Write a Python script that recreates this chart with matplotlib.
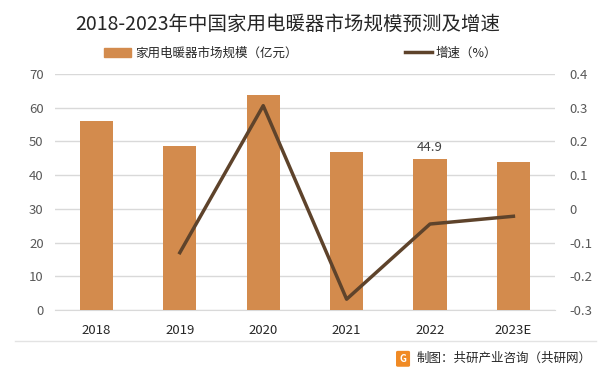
import matplotlib.pyplot as plt
from matplotlib.patches import FancyBboxPatch
from matplotlib.lines import Line2D

plt.rcParams['font.family'] = ['Noto Sans CJK SC', 'DejaVu Sans']

# data
years = ['2018', '2019', '2020', '2021', '2022', '2023E']
market_size = [56.1, 48.7, 63.9, 46.9, 44.9, 44.0]  # 亿元
growth_years = ['2019', '2020', '2021', '2022', '2023E']
growth = [-0.13, 0.306, -0.268, -0.045, -0.022]  # %

bar_color = '#D38B4D'
line_color = '#5E432B'
tick_color = '#595959'

fig = plt.figure(figsize=(6.02, 3.72), dpi=100)
ax = fig.add_axes([0.0909, 0.1667, 0.8312, 0.6344])
ax2 = ax.twinx()

x = list(range(len(years)))
ax.bar(x, market_size, width=0.4, color=bar_color, zorder=3)
ax.set_xlim(-0.5, len(years) - 0.5)
ax.set_ylim(0, 70)
ax.set_yticks(range(0, 71, 10))
ax.set_xticks(x)
ax.set_xticklabels(years)
ax.grid(axis='y', color='#d9d9d9', linewidth=1, zorder=0)
ax.set_axisbelow(True)

# label for 2022
i22 = years.index('2022')
ax.text(i22, market_size[i22] + 1.5, f'{market_size[i22]}', ha='center',
        va='bottom', fontsize=9.5, color='#404040')

gx = [years.index(y) for y in growth_years]
ax2.plot(gx, growth, color=line_color, linewidth=2.5, zorder=4)
ax2.set_ylim(-0.3, 0.4)
ax2.set_yticks([0.4, 0.3, 0.2, 0.1, 0, -0.1, -0.2, -0.3])
ax2.set_yticklabels(['0.4', '0.3', '0.2', '0.1', '0', '-0.1', '-0.2', '-0.3'])

for a in (ax, ax2):
    for s in a.spines.values():
        s.set_visible(False)
    a.tick_params(length=0, labelsize=9.5, colors=tick_color)
ax.spines['bottom'].set_visible(True)
ax.spines['bottom'].set_color('#d9d9d9')
ax.tick_params(axis='x', colors='#262626', pad=10)
ax.tick_params(axis='y', pad=8)
ax2.tick_params(axis='y', pad=10)

fig.text(0.478, 0.935, '2018-2023年中国家用电暖器市场规模预测及增速',
         ha='center', va='center', fontsize=14, color='#262626')

# legend
leg_kw = dict(loc='center left', frameon=False, fontsize=9, handlelength=2.2,
              handletextpad=0.3, handleheight=0.8, labelcolor='#262626',
              borderpad=0, borderaxespad=0)
fig.legend([plt.Rectangle((0, 0), 1, 1, color=bar_color)],
           ['家用电暖器市场规模（亿元）'], bbox_to_anchor=(0.172, 0.857), **leg_kw)
fig.legend([Line2D([0], [0], color=line_color, linewidth=2.5)],
           ['增速（%）'], bbox_to_anchor=(0.672, 0.857), **leg_kw)

# footer
fig.add_artist(Line2D([0.025, 0.99], [0.083, 0.083], color='#e3e3e3',
                      linewidth=1, transform=fig.transFigure))
fig.add_artist(FancyBboxPatch((0.661, 0.018), 0.017, 0.035,
                              boxstyle='round,pad=0.002', color='#F08A24',
                              transform=fig.transFigure))
fig.text(0.6695, 0.036, 'G', ha='center', va='center', fontsize=7,
         color='white', weight='bold')
fig.text(0.692, 0.036, '制图：共研产业咨询（共研网）', ha='left', va='center',
         fontsize=9, color='#262626')

fig.savefig('out.png', dpi=100)
